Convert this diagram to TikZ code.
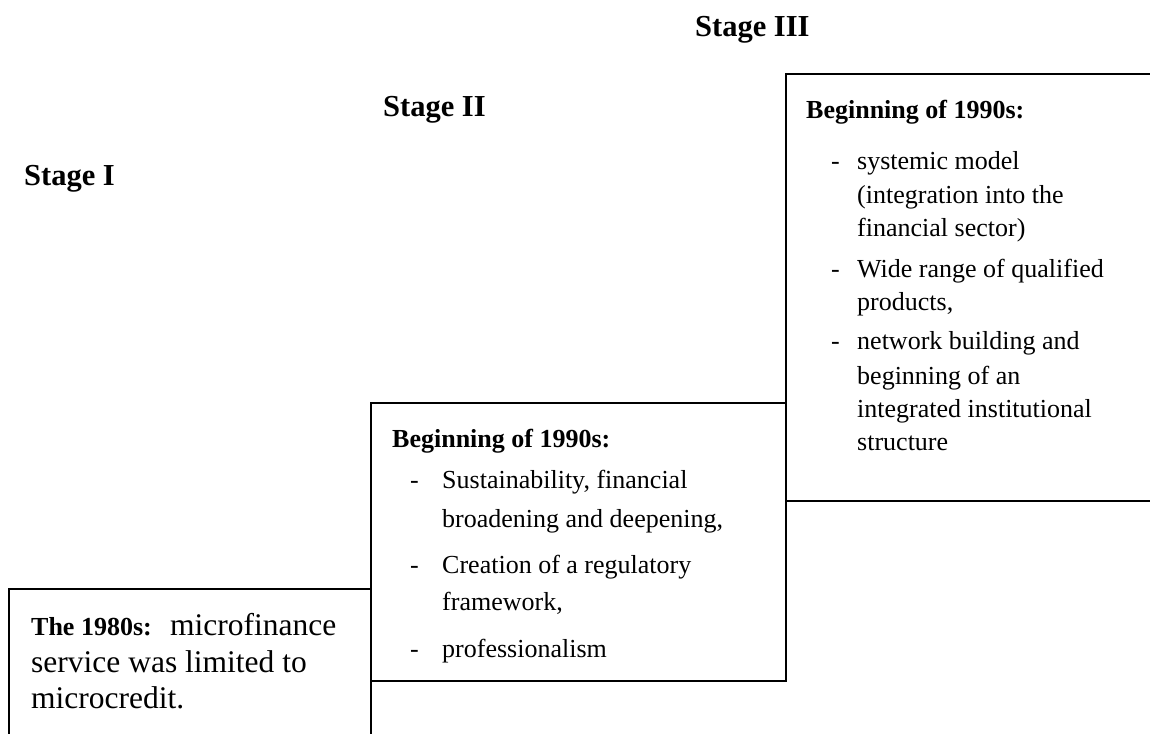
\documentclass[tikz,border=0pt]{standalone}
\usepackage{fontspec}
\setmainfont{Liberation Serif}
\tikzset{
  stagelbl/.style={anchor=base west, inner sep=0pt, font=\fontsize{30.5}{34}\selectfont\bfseries},
  headlbl/.style={anchor=base west, inner sep=0pt, font=\fontsize{26}{30}\selectfont\bfseries},
  bodylbl/.style={anchor=base west, inner sep=0pt, font=\fontsize{26}{30}\selectfont},
  biglbl/.style={anchor=base west, inner sep=0pt, font=\fontsize{31.5}{36}\selectfont},
  edge/.style={line width=1.6pt, line cap=rect}
}
\begin{document}
\begin{tikzpicture}[x=1pt,y=-1pt]
\useasboundingbox[fill=white] (0,0) rectangle (1150,733);

% staircase outlines
\coordinate (a1) at (9,733);
\coordinate (a2) at (9,589);
\coordinate (a3) at (371,589);
\coordinate (b1) at (371,733);
\coordinate (b2) at (371,403);
\coordinate (b3) at (786,403);
\coordinate (c1) at (371,681);
\coordinate (c2) at (786,681);
\coordinate (d1) at (786,74);
\coordinate (d2) at (1150,74);
\coordinate (e1) at (786,501);
\coordinate (e2) at (1150,501);
\draw[edge] (a1) -- (a2) -- (a3);
\draw[edge] (b1) -- (b2) -- (b3);
\draw[edge] (c1) -- (c2) -- (d1) -- (d2);
\draw[edge] (e1) -- (e2);

% stage labels
\node[stagelbl] (s1) at (24,185) {Stage I};
\node[stagelbl] (s2) at (383,117) {Stage II};
\node[stagelbl] (s3) at (695,37) {Stage III};

% box I
\node[headlbl] (t1) at (31,635) {The 1980s:};
\node[biglbl] (t2) at (170,635) {microfinance};
\node[biglbl] (t3) at (31,672) {service was limited to};
\node[biglbl] (t4) at (31,708) {microcredit.};

% box II
\node[headlbl] (h2) at (392,447) {Beginning of 1990s:};
\node[bodylbl] (d21) at (410,488) {-};
\node[bodylbl] (l21) at (442,488) {Sustainability, financial};
\node[bodylbl] (l22) at (442,527) {broadening and deepening,};
\node[bodylbl] (d22) at (410,573) {-};
\node[bodylbl] (l23) at (442,573) {Creation of a regulatory};
\node[bodylbl] (l24) at (442,610) {framework,};
\node[bodylbl] (d23) at (410,657) {-};
\node[bodylbl] (l25) at (442,657) {professionalism};

% box III
\node[headlbl] (h3) at (806,118) {Beginning of 1990s:};
\node[bodylbl] (d31) at (831,169) {-};
\node[bodylbl] (l31) at (857,169) {systemic model};
\node[bodylbl] (l32) at (857,203) {(integration into the};
\node[bodylbl] (l33) at (857,236) {financial sector)};
\node[bodylbl] (d32) at (831,277) {-};
\node[bodylbl] (l34) at (857,277) {Wide range of qualified};
\node[bodylbl] (l35) at (857,310) {products,};
\node[bodylbl] (d33) at (831,349) {-};
\node[bodylbl] (l36) at (857,349) {network building and};
\node[bodylbl] (l37) at (857,384) {beginning of an};
\node[bodylbl] (l38) at (857,417) {integrated institutional};
\node[bodylbl] (l39) at (857,450) {structure};
\end{tikzpicture}
\end{document}
